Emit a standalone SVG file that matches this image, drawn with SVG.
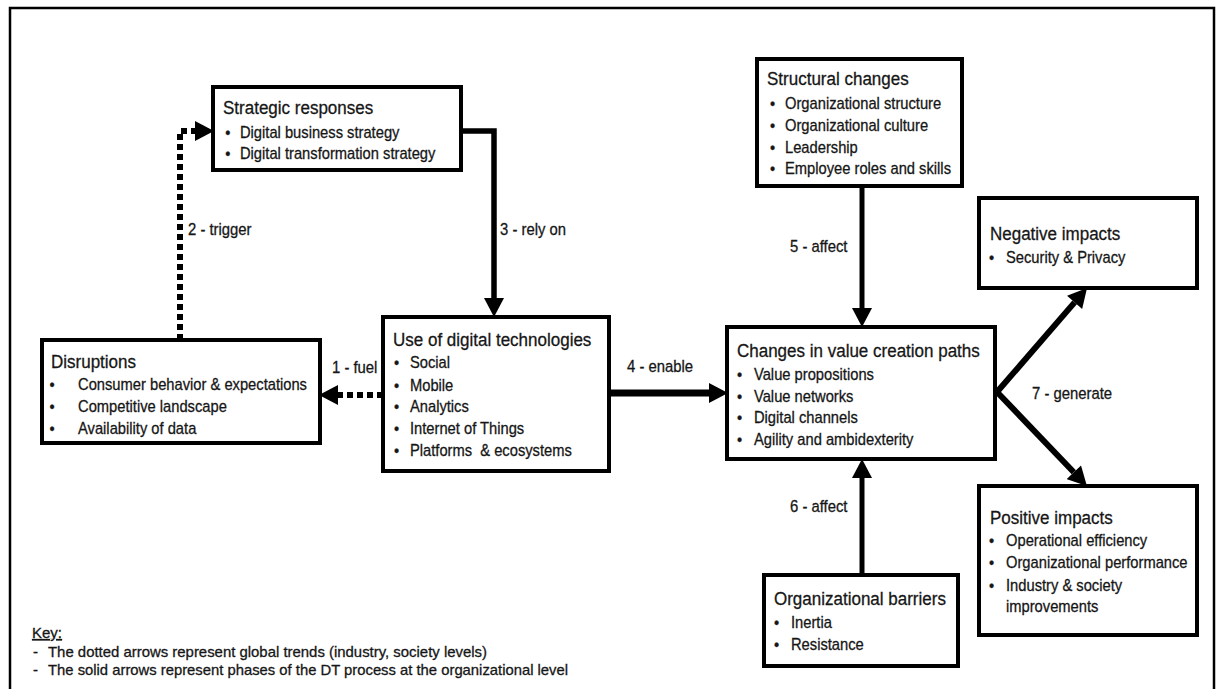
<svg xmlns="http://www.w3.org/2000/svg" width="1224" height="689" viewBox="0 0 1224 689">
  <style>
    text { font-family: "Liberation Sans", Arial, sans-serif; fill: #161616; stroke: #161616; stroke-width: 0.3; }
    .box { fill: #ffffff; stroke: #000000; stroke-width: 4; }
    .ttl { font-size: 19px; }
    .itm { font-size: 17px; }
    .lbl { font-size: 16.5px; }
    .key { font-size: 15px; }
    .solid { fill: none; stroke: #000000; stroke-linejoin: miter; }
    .dots { fill: none; stroke: #000000; stroke-width: 6; stroke-dasharray: 6 4; }
  </style>
  <defs>
    <marker id="head" markerUnits="userSpaceOnUse" markerWidth="20" markerHeight="20" viewBox="0 0 19 20" refX="0" refY="10" orient="auto">
      <path d="M0,0 L19,10 L0,20 Z" fill="#000000"/>
    </marker>
  </defs>

  <rect width="1224" height="689" fill="#ffffff"/>
  <!-- outer frame -->
  <rect x="10" y="8" width="1204" height="700" fill="none" stroke="#000000" stroke-width="2.5"/>

  <!-- connectors -->
  <g id="connectors">
    <!-- 1 - fuel -->
    <path class="dots" d="M383,395 L338,395" marker-end="url(#head)"/>
    <!-- 2 - trigger -->
    <path class="dots" d="M180,340 L180,131 L195,131" marker-end="url(#head)"/>
    <!-- 3 - rely on -->
    <path class="solid" stroke-width="5.5" d="M461,131 L494,131 L494,298" marker-end="url(#head)"/>
    <!-- 4 - enable -->
    <path class="solid" stroke-width="7" d="M609,393 L709,393" marker-end="url(#head)"/>
    <!-- 5 - affect -->
    <path class="solid" stroke-width="5" d="M862,186 L862,308" marker-end="url(#head)"/>
    <!-- 6 - affect -->
    <path class="solid" stroke-width="5" d="M862,575 L862,478" marker-end="url(#head)"/>
    <!-- 7 - generate -->
    <path class="solid" stroke-width="6" d="M997,392 L1074.6,302.4" marker-end="url(#head)"/>
    <path class="solid" stroke-width="6" d="M997,392 L1073.8,472.3" marker-end="url(#head)"/>

    <text class="lbl" transform="translate(332,373) scale(0.9,1)">1 - fuel</text>
    <text class="lbl" transform="translate(188,235) scale(0.9,1)">2 - trigger</text>
    <text class="lbl" transform="translate(500,235) scale(0.9,1)">3 - rely on</text>
    <text class="lbl" transform="translate(627,372) scale(0.9,1)">4 - enable</text>
    <text class="lbl" transform="translate(790,252) scale(0.9,1)">5 - affect</text>
    <text class="lbl" transform="translate(790,512) scale(0.9,1)">6 - affect</text>
    <text class="lbl" transform="translate(1032,399) scale(0.9,1)">7 - generate</text>
  </g>

  <!-- Strategic responses -->
  <g id="strategic-responses">
    <rect class="box" x="213" y="87" width="248" height="83"/>
    <text class="ttl" transform="translate(223,114) scale(0.895,1)">Strategic responses</text>
    <g transform="translate(223,0) scale(0.866,1)">
      <text class="itm" x="2.5" y="138">•</text><text class="itm" x="19.6" y="138">Digital business strategy</text>
      <text class="itm" x="2.5" y="159">•</text><text class="itm" x="19.6" y="159">Digital transformation strategy</text>
    </g>
  </g>

  <!-- Disruptions -->
  <g id="disruptions">
    <rect class="box" x="42" y="340" width="278" height="103"/>
    <text class="ttl" transform="translate(51,368) scale(0.895,1)">Disruptions</text>
    <g transform="translate(51,0) scale(0.866,1)">
      <text class="itm" x="-1.7" y="390">•</text><text class="itm" x="31.2" y="390">Consumer behavior &amp; expectations</text>
      <text class="itm" x="-1.7" y="412">•</text><text class="itm" x="31.2" y="412">Competitive landscape</text>
      <text class="itm" x="-1.7" y="434">•</text><text class="itm" x="31.2" y="434">Availability of data</text>
    </g>
  </g>

  <!-- Use of digital technologies -->
  <g id="use-of-digital-technologies">
    <rect class="box" x="383" y="317" width="226" height="154"/>
    <text class="ttl" transform="translate(393,346) scale(0.895,1)">Use of digital technologies</text>
    <g transform="translate(393,0) scale(0.866,1)">
      <text class="itm" x="1.2" y="368">•</text><text class="itm" x="19.6" y="368">Social</text>
      <text class="itm" x="1.2" y="391">•</text><text class="itm" x="19.6" y="391">Mobile</text>
      <text class="itm" x="1.2" y="412">•</text><text class="itm" x="19.6" y="412">Analytics</text>
      <text class="itm" x="1.2" y="434">•</text><text class="itm" x="19.6" y="434">Internet of Things</text>
      <text class="itm" x="1.2" y="456">•</text><text class="itm" x="19.6" y="456" xml:space="preserve">Platforms  &amp; ecosystems</text>
    </g>
  </g>

  <!-- Changes in value creation paths -->
  <g id="changes-in-value-creation-paths">
    <rect class="box" x="727" y="327" width="268" height="132"/>
    <text class="ttl" transform="translate(737,357) scale(0.895,1)">Changes in value creation paths</text>
    <g transform="translate(737,0) scale(0.866,1)">
      <text class="itm" x="0" y="380">•</text><text class="itm" x="19.6" y="380">Value propositions</text>
      <text class="itm" x="0" y="402">•</text><text class="itm" x="19.6" y="402">Value networks</text>
      <text class="itm" x="0" y="423">•</text><text class="itm" x="19.6" y="423">Digital channels</text>
      <text class="itm" x="0" y="445">•</text><text class="itm" x="19.6" y="445">Agility and ambidexterity</text>
    </g>
  </g>

  <!-- Structural changes -->
  <g id="structural-changes">
    <rect class="box" x="757" y="59" width="205" height="127"/>
    <text class="ttl" transform="translate(767,85) scale(0.895,1)">Structural changes</text>
    <g transform="translate(767,0) scale(0.866,1)">
      <text class="itm" x="3.5" y="109">•</text><text class="itm" x="20.8" y="109">Organizational structure</text>
      <text class="itm" x="3.5" y="131">•</text><text class="itm" x="20.8" y="131">Organizational culture</text>
      <text class="itm" x="3.5" y="153">•</text><text class="itm" x="20.8" y="153">Leadership</text>
      <text class="itm" x="3.5" y="174">•</text><text class="itm" x="20.8" y="174">Employee roles and skills</text>
    </g>
  </g>

  <!-- Negative impacts -->
  <g id="negative-impacts">
    <rect class="box" x="979" y="198" width="218" height="90"/>
    <text class="ttl" transform="translate(990,240) scale(0.895,1)">Negative impacts</text>
    <g transform="translate(990,0) scale(0.866,1)">
      <text class="itm" x="-1.2" y="263">•</text><text class="itm" x="18.5" y="263">Security &amp; Privacy</text>
    </g>
  </g>

  <!-- Positive impacts -->
  <g id="positive-impacts">
    <rect class="box" x="979" y="486" width="218" height="149"/>
    <text class="ttl" transform="translate(990,524) scale(0.895,1)">Positive impacts</text>
    <g transform="translate(990,0) scale(0.866,1)">
      <text class="itm" x="-1.2" y="546">•</text><text class="itm" x="18.5" y="546">Operational efficiency</text>
      <text class="itm" x="-1.2" y="568">•</text><text class="itm" x="18.5" y="568">Organizational performance</text>
      <text class="itm" x="-1.2" y="591">•</text><text class="itm" x="18.5" y="591">Industry &amp; society</text>
      <text class="itm" x="18.5" y="612">improvements</text>
    </g>
  </g>

  <!-- Organizational barriers -->
  <g id="organizational-barriers">
    <rect class="box" x="764" y="575" width="194" height="91"/>
    <text class="ttl" transform="translate(774,605) scale(0.895,1)">Organizational barriers</text>
    <g transform="translate(774,0) scale(0.866,1)">
      <text class="itm" x="0" y="628">•</text><text class="itm" x="19.6" y="628">Inertia</text>
      <text class="itm" x="0" y="650">•</text><text class="itm" x="19.6" y="650">Resistance</text>
    </g>
  </g>

  <!-- Key -->
  <g id="key">
    <text class="key" x="32" y="638" text-decoration="underline">Key:</text>
    <text class="key" x="33" y="657">-</text>
    <text class="key" x="48" y="657" textLength="439" lengthAdjust="spacingAndGlyphs">The dotted arrows represent global trends (industry, society levels)</text>
    <text class="key" x="33" y="675">-</text>
    <text class="key" x="48" y="675" textLength="520" lengthAdjust="spacingAndGlyphs">The solid arrows represent phases of the DT process at the organizational level</text>
  </g>
</svg>
